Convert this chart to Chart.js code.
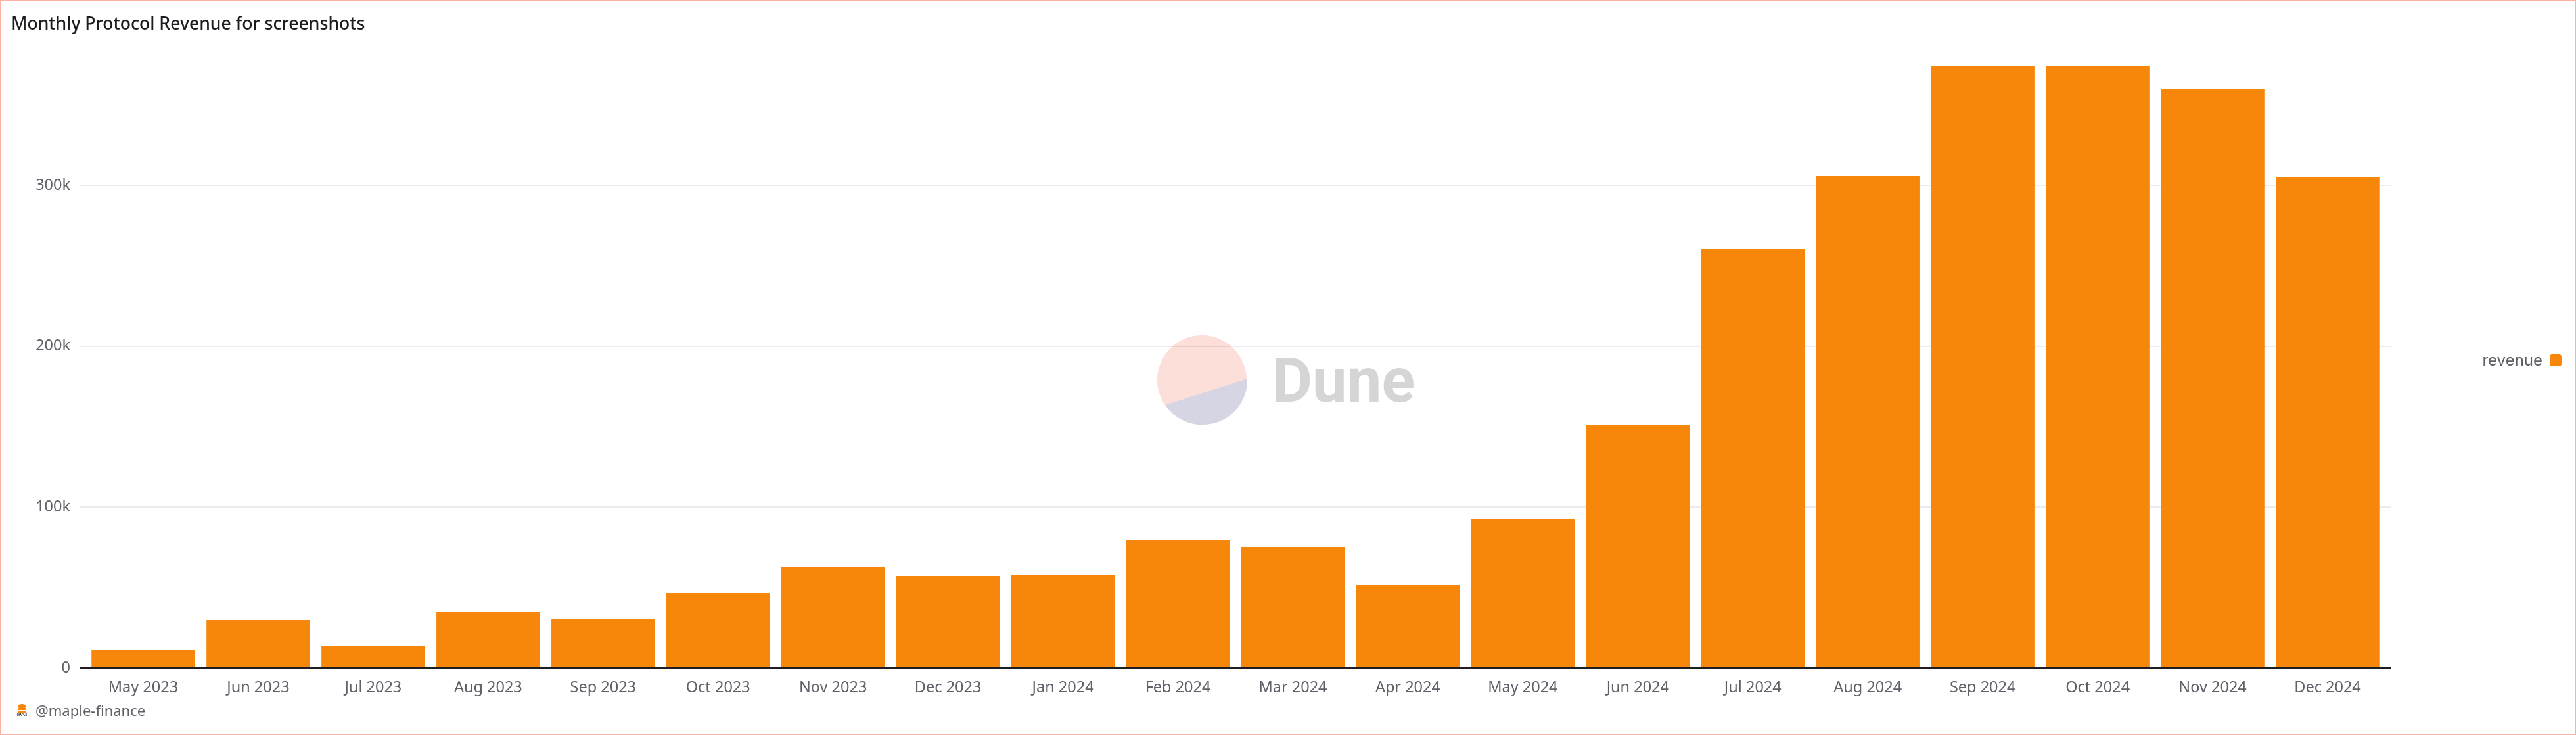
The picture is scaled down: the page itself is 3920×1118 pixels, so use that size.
<!DOCTYPE html>
<html>
<head>
<meta charset="utf-8">
<title>Monthly Protocol Revenue for screenshots</title>
<script src="https://cdn.jsdelivr.net/npm/chart.js@4"></script>
<style>
  html, body { margin: 0; padding: 0; background: #fff; }
  #wrap { position: relative; width: 3920px; height: 1118px; overflow: hidden; }
  #wrap canvas { position: absolute; left: 0; top: 0; }
  #frame { position: absolute; inset: 0; border: 2px solid #fdb1a2; pointer-events: none; }
  #watermark { position: absolute; left: 1700px; top: 470px; mix-blend-mode: multiply; }
  #legend { position: absolute; right: 22px; top: 533px; display: flex; align-items: center; gap: 11px;
    font: 400 24px Inter, sans-serif; color: #5f6168; }
  #legend i { display: block; width: 18px; height: 18px; border-radius: 4px; }
  #credit { position: absolute; left: 26px; top: 1065px; display: flex; align-items: center; gap: 13px;
    font: 400 22px "Noto Sans", sans-serif; color: #5f6168; }
</style>
</head>
<body>
<div id="wrap">
  <canvas id="chart" width="3920" height="1118"></canvas>
  <svg id="watermark" width="500" height="200">
    <circle cx="129" cy="108" r="68" fill="#fcdfd9"/>
    <path d="M73.5 146 L198 106 A68 68 0 0 1 73.5 146 Z" fill="#d5d5e3"/>
    <text x="236" y="141" font-family="Roboto, sans-serif" font-weight="700" font-size="94" fill="#d5d5d5">Dune</text>
  </svg>
  <div id="legend"></div>
  <div id="credit">
    <svg width="15" height="18" viewBox="0 0 15 18">
      <ellipse cx="7.5" cy="3.5" rx="6.5" ry="3.5" fill="#f6870b"/>
      <rect x="1" y="6" width="13" height="3" rx="1.5" fill="#f6870b"/>
      <rect x="1" y="10" width="13" height="3" rx="1.5" fill="#f6870b"/>
      <text x="7.5" y="17.5" text-anchor="middle" font-family="Roboto, sans-serif" font-weight="700" font-size="4.5" fill="#333">MAPLE</text>
    </svg>
    <span>@maple-finance</span>
  </div>
  <div id="frame"></div>
</div>
<script>
const months = [
  "May 2023", "Jun 2023", "Jul 2023", "Aug 2023", "Sep 2023", "Oct 2023", "Nov 2023",
  "Dec 2023", "Jan 2024", "Feb 2024", "Mar 2024", "Apr 2024", "May 2024", "Jun 2024",
  "Jul 2024", "Aug 2024", "Sep 2024", "Oct 2024", "Nov 2024", "Dec 2024",
];
const revenue = [
  11400, 29800, 13500, 34700, 30700, 46600, 62900,
  57200, 58000, 79700, 75200, 51500, 92400, 151200,
  260400, 306100, 374400, 374400, 359700, 305300,
];
const yTicks = [0, 100000, 200000, 300000];
const yMax = 374400;

const orange = "#f6870b";
const tickFont = { family: '"Noto Sans", sans-serif', size: 23.5 };

// category axis with a little extra room at both ends, the first and last
// bars stand a full gap away from the ends of the baseline
class PaddedCategory extends Chart.CategoryScale {
  static id = "paddedCategory";
  static defaults = Chart.CategoryScale.defaults;
  buildTicks() {
    const ticks = super.buildTicks();
    const pad = 0.0486;
    this._startValue -= pad;
    this._valueRange += pad * 2;
    return ticks;
  }
}
Chart.register(PaddedCategory);

const chart = new Chart(document.getElementById("chart").getContext("2d"), {
  type: "bar",
  data: {
    labels: months,
    datasets: [
      {
        label: "revenue",
        data: revenue,
        backgroundColor: orange,
        categoryPercentage: 0.9,
        barPercentage: 1,
      },
    ],
  },
  options: {
    responsive: false,
    animation: false,
    layout: {
      padding: { left: 17, right: 282, top: 0, bottom: 52 },
    },
    plugins: {
      legend: { display: false },
      tooltip: { enabled: false },
      title: {
        display: true,
        text: "Monthly Protocol Revenue for screenshots",
        align: "start",
        color: "#1c1d21",
        font: { family: '"Noto Sans", sans-serif', size: 26.6, weight: "500", lineHeight: 1.2 },
        padding: { top: 21, bottom: 47 },
      },
    },
    scales: {
      x: {
        type: "paddedCategory",
        grid: { display: false },
        border: { color: "#1e1e22", width: 3 },
        ticks: { color: "#5f6168", font: tickFont, padding: 8, maxRotation: 0, autoSkip: false },
        afterFit(scale) {
          scale.height = 50;
        },
      },
      y: {
        min: 0,
        max: yMax,
        grid: { color: "#ecebef", lineWidth: 2, drawTicks: false },
        border: { display: false },
        ticks: {
          color: "#5f6168",
          font: tickFont,
          padding: 15,
          callback: (v) => (v === 0 ? "0" : v / 1000 + "k"),
        },
        afterBuildTicks(scale) {
          scale.ticks = yTicks.map((value) => ({ value }));
        },
        afterFit(scale) {
          scale.width = 105;
        },
      },
    },
  },
});

// html legend, text sits left of the swatch
const legend = document.getElementById("legend");
chart.data.datasets.forEach((ds) => {
  const label = document.createElement("span");
  label.textContent = ds.label;
  const swatch = document.createElement("i");
  swatch.style.background = ds.backgroundColor;
  legend.append(label, swatch);
});
</script>
</body>
</html>
